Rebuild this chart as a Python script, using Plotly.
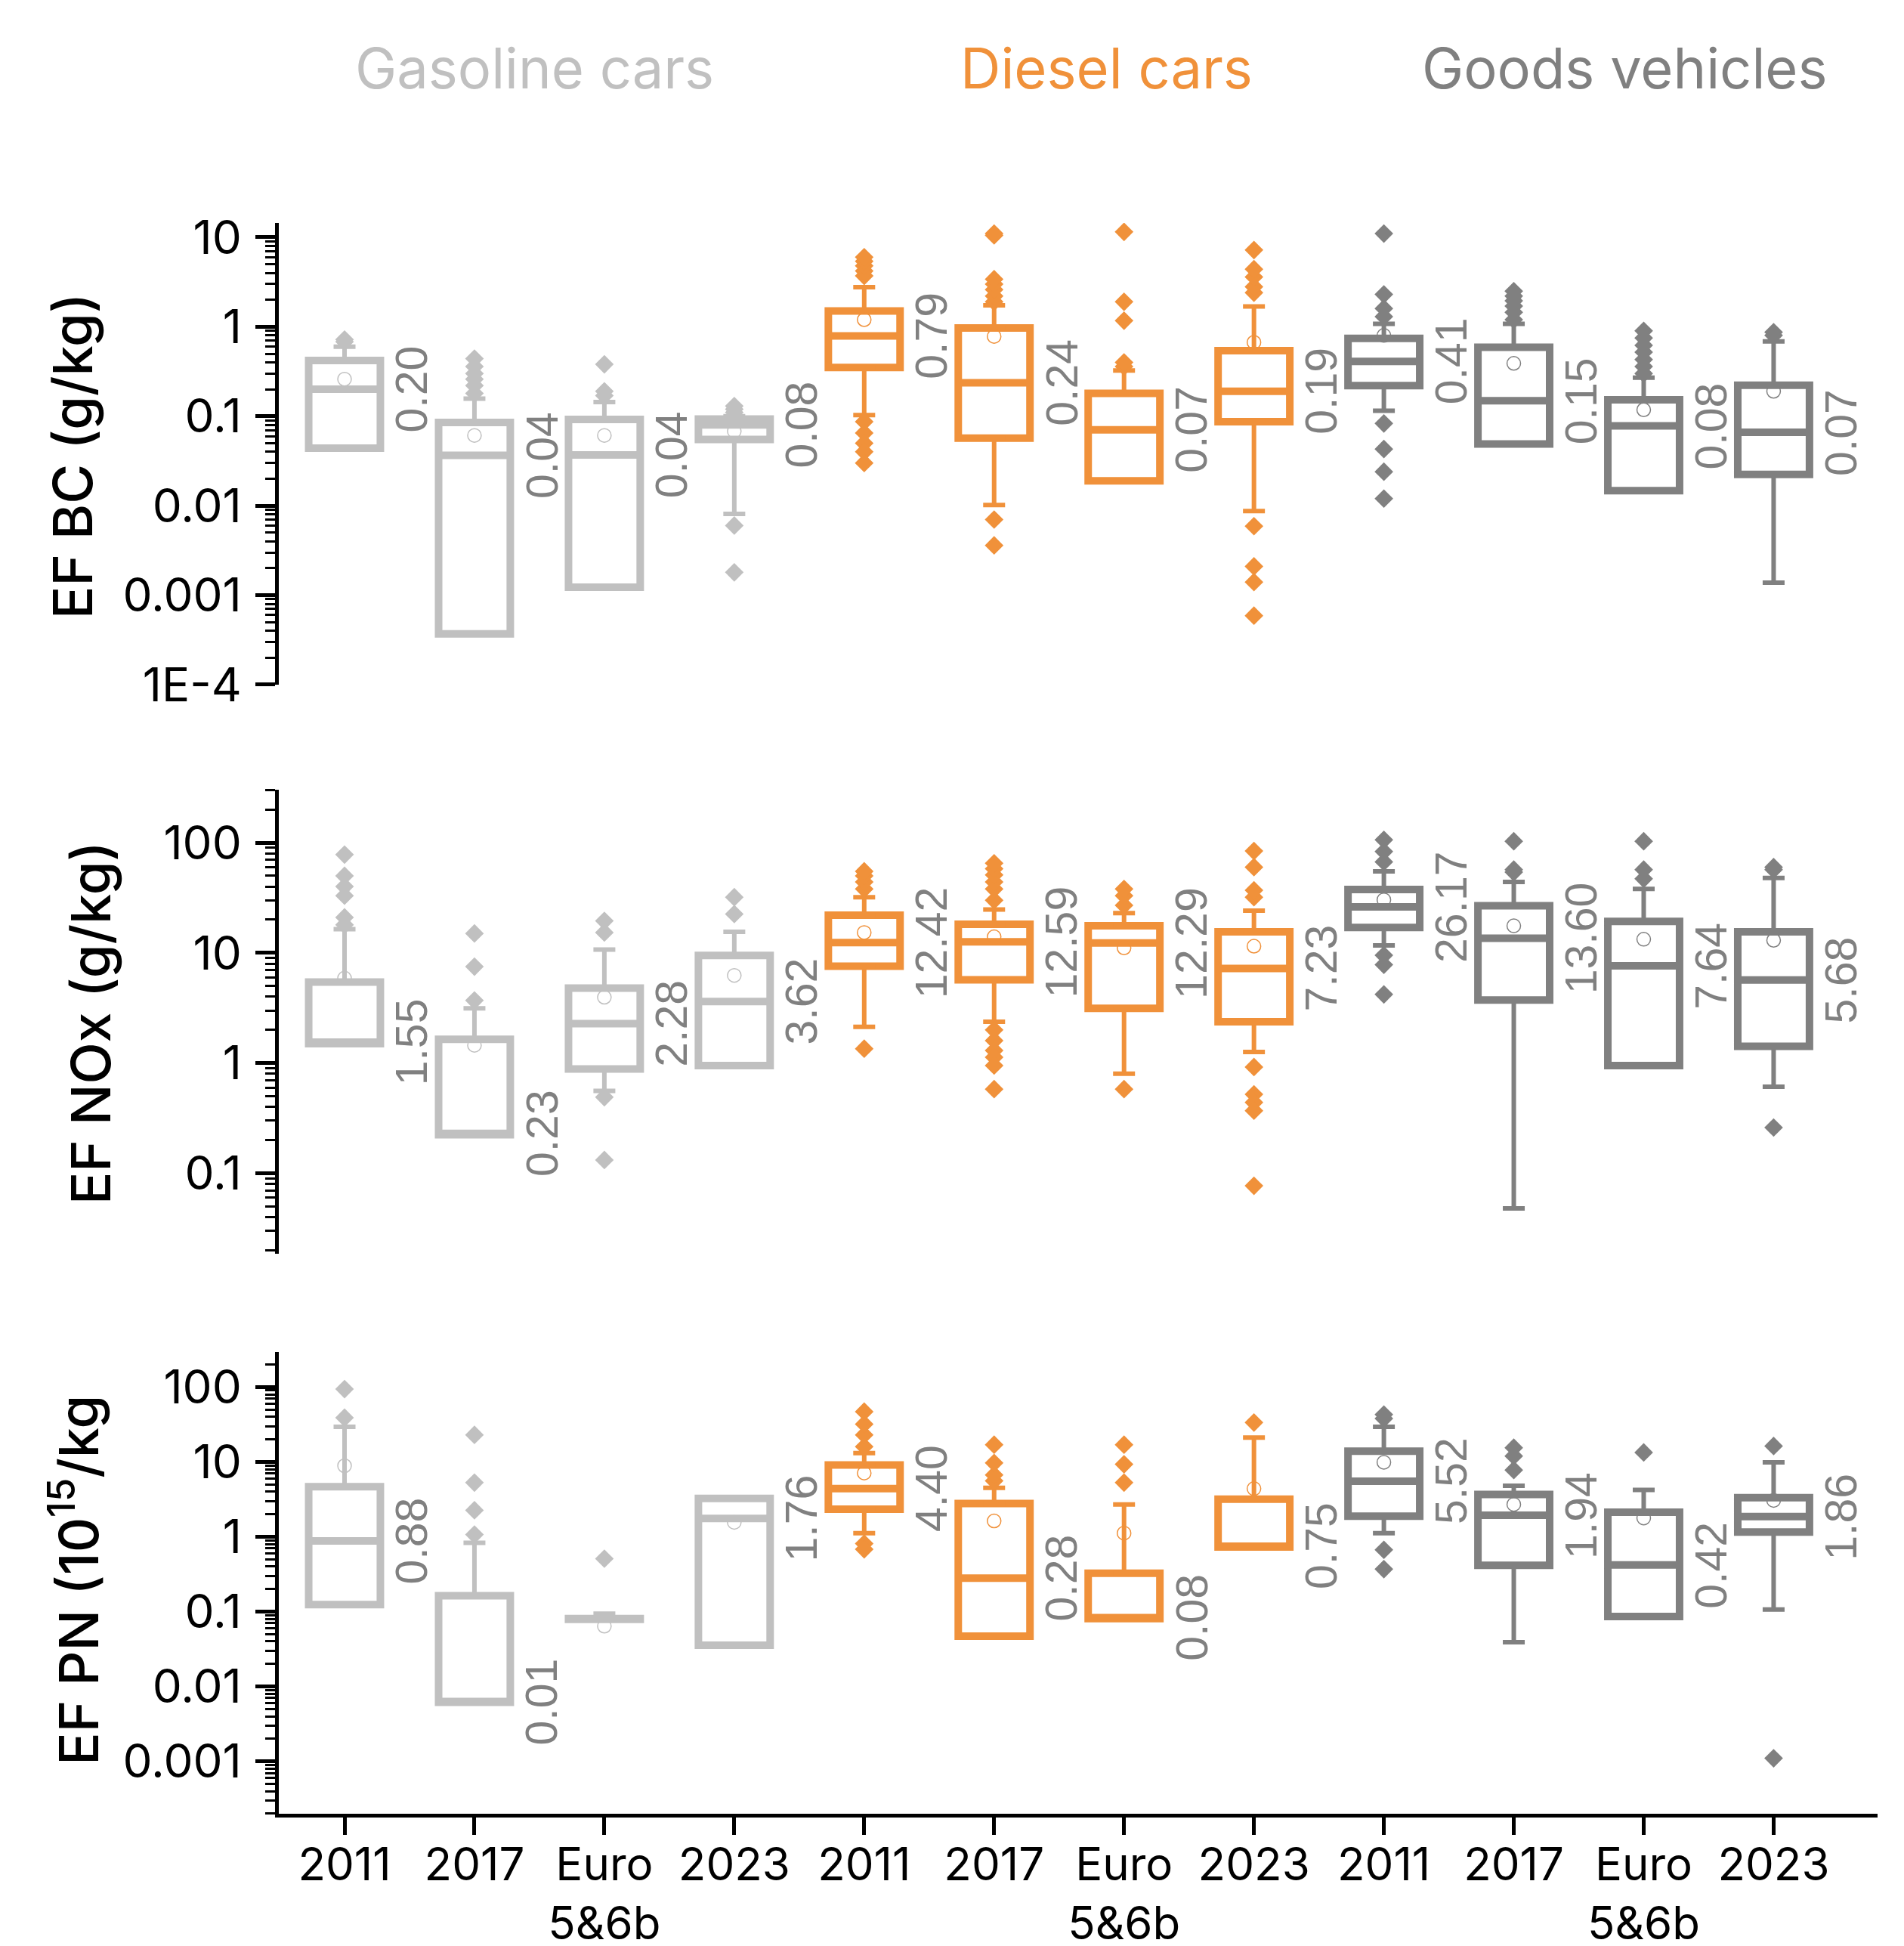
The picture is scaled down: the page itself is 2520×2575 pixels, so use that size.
import math
import plotly.graph_objects as go

# ---------------- categories / text ----------------
tick_text = ["2011", "2017", "Euro<br>5&6b", "2023"] * 3
groups = ["Gasoline cars", "Diesel cars", "Goods vehicles"]
group_colors = ["#C0C0C0", "#F0913A", "#808080"]
label_color = "#808080"

# ---------------- EF BC (g/kg) ----------------
bc_q1 = [0.044, 0.00037, 0.00123, 0.055, 0.35, 0.057, 0.019, 0.087, 0.22, 0.049, 0.0147, 0.0224]
bc_med = [0.20, 0.0365, 0.037, 0.080, 0.79, 0.236, 0.0705, 0.19, 0.41, 0.149, 0.078, 0.066]
bc_q3 = [0.42, 0.085, 0.092, 0.093, 1.50, 0.97, 0.18, 0.54, 0.74, 0.59, 0.153, 0.222]
bc_lo = [None, None, None, 0.0081, 0.103, 0.0102, None, 0.0087, 0.115, None, None, 0.00138]
bc_hi = [0.60, 0.157, 0.144, 0.10, 2.77, 1.74, 0.325, 1.69, 1.08, 1.08, 0.27, 0.686]
bc_mean = [0.26, 0.061, 0.061, 0.068, 1.20, 0.78, None, 0.67, 0.80, 0.39, 0.118, 0.19]
bc_out = [
    [0.68, 0.72],
    [0.18, 0.22, 0.26, 0.30, 0.36, 0.44],
    [0.17, 0.19, 0.38],
    [0.11, 0.12, 0.13, 0.006, 0.0018],
    [3.7, 4.2, 4.8, 5.4, 6.0, 0.087, 0.065, 0.05, 0.04, 0.03],
    [1.9, 2.2, 2.6, 3.0, 3.4, 10.5, 11.0, 0.007, 0.0036],
    [0.36, 0.40, 1.17, 1.9, 11.5],
    [2.4, 2.8, 3.6, 4.4, 7.2, 0.0059, 0.0021, 0.0014, 0.00059],
    [1.3, 1.6, 2.3, 11.0, 0.083, 0.043, 0.024, 0.012],
    [1.2, 1.45, 1.7, 1.95, 2.2, 2.5],
    [0.30, 0.36, 0.43, 0.52, 0.62, 0.75, 0.9],
    [0.8, 0.87],
]
bc_labels = ["0.20", "0.04", "0.04", "0.08", "0.79", "0.24", "0.07", "0.19", "0.41", "0.15", "0.08", "0.07"]

# ---------------- EF NOx (g/kg) ----------------
nox_q1 = [1.50, 0.224, 0.885, 0.95, 7.57, 5.7, 3.14, 2.37, 17.0, 3.74, 0.95, 1.42]
nox_med = [1.55, 0.23, 2.28, 3.62, 12.42, 12.59, 12.29, 7.23, 26.17, 13.60, 7.64, 5.68]
nox_q3 = [5.43, 1.64, 4.79, 9.47, 22.0, 18.2, 17.6, 15.5, 37.6, 26.8, 19.3, 15.5]
nox_lo = [None, None, 0.56, None, 2.13, 2.37, 0.80, 1.26, 11.7, 0.048, None, 0.61]
nox_hi = [16.4, 3.14, 10.7, 15.5, 32.0, 24.7, 23.0, 24.2, 55.0, 44.0, 38.0, 47.8]
nox_mean = [5.9, 1.45, 3.96, 6.25, 15.3, 14.0, 11.1, 11.5, 30.3, 17.6, 13.3, 13.0]
nox_out = [
    [18, 21, 33, 40, 50, 78],
    [3.7, 7.5, 15],
    [15.3, 19.5, 0.49, 0.132],
    [22.5, 32],
    [38, 44, 50, 55, 1.35],
    [30, 38, 44, 51, 58, 65, 2.0, 1.6, 1.3, 1.13, 0.95, 0.58],
    [27, 33, 38, 0.58],
    [32, 37, 60, 84, 0.92, 0.52, 0.44, 0.37, 0.077],
    [67, 83, 106, 9.5, 7.8, 4.2],
    [54, 57, 103],
    [47, 57, 103],
    [57, 60, 0.26],
]
nox_labels = ["1.55", "0.23", "2.28", "3.62", "12.42", "12.59", "12.29", "7.23", "26.17", "13.60", "7.64", "5.68"]

# ---------------- EF PN (10^15/kg) ----------------
pn_q1 = [0.124, 0.00615, 0.079, 0.0356, 2.34, 0.047, 0.081, 0.73, 1.89, 0.415, 0.086, 1.16]
pn_med = [0.88, 0.0062, 0.080, 1.76, 4.40, 0.28, 0.083, 0.75, 5.52, 1.94, 0.42, 1.86]
pn_q3 = [4.67, 0.163, 0.081, 3.25, 9.1, 2.78, 0.326, 3.18, 13.9, 3.67, 2.13, 3.33]
pn_lo = [None, None, None, None, 1.12, None, None, None, 1.12, 0.039, None, 0.107]
pn_hi = [29.4, 0.83, 0.094, 3.4, 13.1, 4.5, 2.71, 21.2, 29.4, 4.8, 4.24, 9.9]
pn_mean = [8.9, None, 0.064, 1.56, 7.1, 1.63, 1.12, 4.4, 9.9, 2.71, 1.78, 3.06]
pn_out = [
    [39, 94],
    [1.07, 2.26, 5.3, 23],
    [0.51],
    [],
    [16, 23, 32, 47, 0.81, 0.68],
    [5.6, 6.7, 9.7, 17],
    [5.3, 9.3, 17],
    [33.6],
    [38, 43, 0.67, 0.37],
    [7.8, 12, 15.5],
    [13.4],
    [16.3, 0.0011],
]
pn_labels = ["0.88", "0.01", "", "1.76", "4.40", "0.28", "0.08", "0.75", "5.52", "1.94", "0.42", "1.86"]

# ---------------- axis titles / ticks ----------------
bc_title = "EF BC (g/kg)"
nox_title = "EF NOx (g/kg)"
pn_title = "EF PN (10<sup>15</sup>/kg"
bc_ticks = [1e-4, 1e-3, 0.01, 0.1, 1, 10]
bc_ticktext = ["1E-4", "0.001", "0.01", "0.1", "1", "10"]
nox_ticks = [0.1, 1, 10, 100]
nox_ticktext = ["0.1", "1", "10", "100"]
pn_ticks = [0.001, 0.01, 0.1, 1, 10, 100]
pn_ticktext = ["0.001", "0.01", "0.1", "1", "10", "100"]

panels = [
    dict(q1=bc_q1, med=bc_med, q3=bc_q3, lo=bc_lo, hi=bc_hi, mean=bc_mean, out=bc_out,
         lab=bc_labels, ax="y", ref="y", title=bc_title, tv=bc_ticks, tt=bc_ticktext,
         rng=[-4.0, 1.16], dom=[0.6496, 0.9152], tx=-0.1295, ty=0.7813),
    dict(q1=nox_q1, med=nox_med, q3=nox_q3, lo=nox_lo, hi=nox_hi, mean=nox_mean, out=nox_out,
         lab=nox_labels, ax="y2", ref="y2", title=nox_title, tv=nox_ticks, tt=nox_ticktext,
         rng=[-1.73, 2.48], dom=[0.3222, 0.5891], tx=-0.1176, ty=0.4548),
    dict(q1=pn_q1, med=pn_med, q3=pn_q3, lo=pn_lo, hi=pn_hi, mean=pn_mean, out=pn_out,
         lab=pn_labels, ax="y3", ref="y3", title=pn_title, tv=pn_ticks, tt=pn_ticktext,
         rng=[-3.70, 2.47], dom=[0.0, 0.2657], tx=-0.1278, ty=0.1343),
]

positions = list(range(len(tick_text)))
BOX_W = 0.552
LINE_W = 10

fig = go.Figure()
annotations = []

for p in panels:
    for g in range(3):
        col = group_colors[g]
        idx = list(range(4 * g, 4 * g + 4))
        xs = [positions[i] for i in idx]
        q1 = [p["q1"][i] for i in idx]
        q3 = [p["q3"][i] for i in idx]
        # boxes (whiskers drawn separately)
        fig.add_trace(go.Box(
            x=xs, q1=q1, median=[p["med"][i] for i in idx], q3=q3,
            lowerfence=q1, upperfence=q3, width=BOX_W, whiskerwidth=0,
            line=dict(color=col, width=LINE_W), fillcolor="white",
            boxpoints=False, xaxis="x", yaxis=p["ax"], showlegend=False, hoverinfo="skip"))
        # upper whiskers
        ui = [i for i in idx if p["hi"][i] is not None]
        if ui:
            fig.add_trace(go.Scatter(
                x=[positions[i] for i in ui], y=[p["q3"][i] for i in ui], mode="markers",
                marker=dict(size=1, opacity=0),
                error_y=dict(type="data", symmetric=False,
                             array=[p["hi"][i] - p["q3"][i] for i in ui],
                             arrayminus=[0] * len(ui), color=col, thickness=6, width=14.5),
                xaxis="x", yaxis=p["ax"], showlegend=False, hoverinfo="skip"))
        # lower whiskers
        li = [i for i in idx if p["lo"][i] is not None]
        if li:
            fig.add_trace(go.Scatter(
                x=[positions[i] for i in li], y=[p["q1"][i] for i in li], mode="markers",
                marker=dict(size=1, opacity=0),
                error_y=dict(type="data", symmetric=False,
                             array=[0] * len(li),
                             arrayminus=[p["q1"][i] - p["lo"][i] for i in li],
                             color=col, thickness=6, width=14.5),
                xaxis="x", yaxis=p["ax"], showlegend=False, hoverinfo="skip"))
        # means
        mi = [i for i in idx if p["mean"][i] is not None]
        fig.add_trace(go.Scatter(
            x=[positions[i] for i in mi], y=[p["mean"][i] for i in mi], mode="markers",
            marker=dict(symbol="circle-open", size=18, color=col, line=dict(width=1.5, color=col)),
            xaxis="x", yaxis=p["ax"], showlegend=False, hoverinfo="skip"))
        # outliers
        ox, oy = [], []
        for i in idx:
            for v in p["out"][i]:
                ox.append(positions[i])
                oy.append(v)
        if ox:
            fig.add_trace(go.Scatter(
                x=ox, y=oy, mode="markers",
                marker=dict(symbol="diamond", size=19, color=col, line=dict(width=0)),
                xaxis="x", yaxis=p["ax"], showlegend=False, hoverinfo="skip"))
    # median labels
    for i in positions:
        if p["lab"][i]:
            annotations.append(dict(
                x=positions[i] + 0.52, y=math.log10(p["med"][i]), xref="x", yref=p["ref"],
                text=p["lab"][i], textangle=-90, showarrow=False,
                xanchor="center", yanchor="middle",
                font=dict(family="Liberation Sans, Arial, sans-serif", size=59, color=label_color)))
    # axis title
    annotations.append(dict(
        x=p["tx"], y=p["ty"], xref="paper", yref="paper", text=p["title"], textangle=-90,
        showarrow=False, xanchor="center", yanchor="middle",
        font=dict(family="Inter, sans-serif", size=72, color="black", weight=500)))

# group titles
title_x = [0.16, 0.5175, 0.8417]
for g in range(3):
    annotations.append(dict(
        x=title_x[g], y=1.0043, xref="paper", yref="paper", text=groups[g], showarrow=False,
        xanchor="center", yanchor="middle",
        font=dict(family="Inter, sans-serif", size=74, color=group_colors[g])))

layout_axes = {}
for k, p in enumerate(panels):
    lo_e = math.floor(p["rng"][0])
    hi_e = math.ceil(p["rng"][1])
    minor_vals = [m * 10 ** e for e in range(lo_e, hi_e + 1) for m in range(2, 10)]
    name = "yaxis" if k == 0 else "yaxis%d" % (k + 1)
    layout_axes[name] = dict(
        type="log", domain=p["dom"], range=p["rng"], anchor="x", automargin=False,
        tickmode="array", tickvals=p["tv"], ticktext=p["tt"],
        showline=True, linecolor="black", linewidth=4.5,
        ticks="outside", ticklen=26, tickwidth=4.5, tickcolor="black",
        tickfont=dict(family="Inter, sans-serif", size=62, color="black"),
        ticklabelstandoff=6,
        showgrid=False, zeroline=False,
        minor=dict(tickmode="array", tickvals=minor_vals, ticks="outside", ticklen=13,
                   tickwidth=3, tickcolor="black", showgrid=False),
    )

# the page body adds an 8 px offset; figure sized to fit the window
fig.update_layout(
    width=2512, height=2567,
    margin=dict(l=361, r=35, t=92, b=175, autoexpand=False),
    paper_bgcolor="white", plot_bgcolor="white",
    boxmode="overlay",
    showlegend=False,
    xaxis=dict(
        domain=[0, 1], range=[-0.506, 11.80], anchor="y3", automargin=False,
        tickmode="array", tickvals=positions, ticktext=tick_text,
        showline=True, linecolor="black", linewidth=4.5,
        ticks="outside", ticklen=23, tickwidth=4.5, tickcolor="black",
        tickfont=dict(family="Inter, sans-serif", size=60, color="black"),
        ticklabelstandoff=-12,
        showgrid=False, zeroline=False,
    ),
    annotations=annotations,
    **layout_axes,
)

fig.write_html("out.html")
